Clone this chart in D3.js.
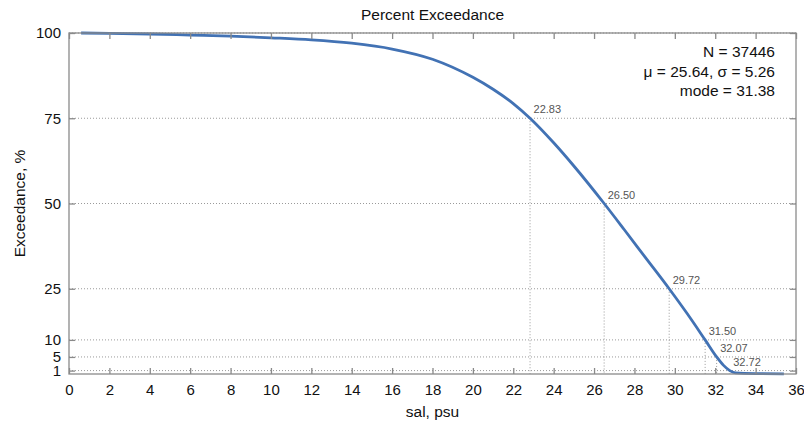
<!DOCTYPE html>
<html>
<head>
<meta charset="utf-8">
<script src="https://cdnjs.cloudflare.com/ajax/libs/d3/7.8.5/d3.min.js"></script>
<style>
  body { margin: 0; background: #fff; }
  svg { display: block; font-family: "Liberation Sans", Arial, sans-serif; }
</style>
</head>
<body>
<svg id="chart" width="804" height="425"></svg>
<script>
// Exceedance curve (salinity psu, percent exceeding)
var sal =        [0.6, 2, 4, 6, 8, 10, 12, 14, 16, 18, 20, 21, 22, 22.83, 24, 25, 26.5, 27.5, 28.5, 29.72, 30.6, 31.5, 32.07, 32.4, 32.72, 33, 34, 35.4];
var exceedance = [100, 99.9, 99.7, 99.4, 99.1, 98.6, 98.0, 97.0, 95.3, 92.3, 87, 83.5, 79.3, 75, 67.8, 61.0, 50, 42.3, 34.5, 25, 17.8, 10, 5, 2.6, 1, 0.3, 0.1, 0.05];

// Marked quantiles
var qLevels = [75, 50, 25, 10, 5, 1];
var qValues = [22.83, 26.50, 29.72, 31.50, 32.07, 32.72];

var xTicks = d3.range(0, 37, 2);
var yTicks = [1, 5, 10, 25, 50, 75, 100];

var statLines = ['N = 37446', '\u03bc = 25.64, \u03c3 = 5.26', 'mode = 31.38'];

(function() {
var svg = d3.select('#chart');
// note: "top" is reserved on window, so use plot* names
var plotL = 69, plotR = 796, plotT = 33, plotB = 374;

var x = d3.scaleLinear().domain([0, 36]).range([plotL, plotR]);
var y = d3.scaleLinear().domain([0, 100]).range([plotB, plotT]);

var axisColor = '#8a8a8a';
var gridColor = '#9a9a9a';

// horizontal grid at y ticks
svg.append('g')
  .selectAll('line')
  .data(yTicks)
  .enter().append('line')
    .attr('x1', plotL).attr('x2', plotR)
    .attr('y1', function(d) { return y(d); })
    .attr('y2', function(d) { return y(d); })
    .attr('stroke', gridColor)
    .attr('stroke-width', 1)
    .attr('stroke-dasharray', '1,2');

// vertical dotted drops at quantiles
svg.append('g')
  .selectAll('line')
  .data(qValues)
  .enter().append('line')
    .attr('x1', function(d) { return x(d); })
    .attr('x2', function(d) { return x(d); })
    .attr('y1', function(d, i) { return y(qLevels[i]); })
    .attr('y2', plotB)
    .attr('stroke', gridColor)
    .attr('stroke-width', 1)
    .attr('stroke-dasharray', '1,2');

// curve
var line = d3.line()
  .x(function(d) { return x(d[0]); })
  .y(function(d) { return y(d[1]); })
  .curve(d3.curveMonotoneX);

svg.append('path')
  .datum(d3.zip(sal, exceedance))
  .attr('fill', 'none')
  .attr('stroke', '#4272b4')
  .attr('stroke-width', 2.8)
  .attr('d', line);

// quantile labels
svg.append('g')
  .selectAll('text')
  .data(qValues)
  .enter().append('text')
    .attr('x', function(d) { return x(d) + 3.5; })
    .attr('y', function(d, i) { return y(qLevels[i]) - 5; })
    .attr('font-size', 11)
    .attr('fill', '#555')
    .text(function(d) { return d.toFixed(2); });

// axes box with inward ticks on all sides
var axes = svg.append('g');
axes.append('rect')
  .attr('x', plotL).attr('y', plotT)
  .attr('width', plotR - plotL).attr('height', plotB - plotT)
  .attr('fill', 'none')
  .attr('stroke', axisColor)
  .attr('stroke-width', 1.3);

var xb = axes.append('g')
  .attr('transform', 'translate(0,' + plotB + ')')
  .call(d3.axisBottom(x).tickValues(xTicks).tickSizeInner(-6).tickSizeOuter(0).tickPadding(10));
var xt = axes.append('g')
  .attr('transform', 'translate(0,' + plotT + ')')
  .call(d3.axisTop(x).tickValues(xTicks).tickSizeInner(-6).tickSizeOuter(0).tickFormat(''));
var yl = axes.append('g')
  .attr('transform', 'translate(' + plotL + ',0)')
  .call(d3.axisLeft(y).tickValues(yTicks).tickSizeInner(-6).tickSizeOuter(0).tickPadding(8));
var yr = axes.append('g')
  .attr('transform', 'translate(' + plotR + ',0)')
  .call(d3.axisRight(y).tickValues(yTicks).tickSizeInner(-6).tickSizeOuter(0).tickFormat(''));

[xb, xt, yl, yr].forEach(function(g) {
  g.select('.domain').remove();
  g.selectAll('.tick line').attr('stroke', axisColor).attr('stroke-width', 1.3);
  g.selectAll('.tick text')
    .attr('font-family', '"Liberation Sans", Arial, sans-serif')
    .attr('font-size', 15)
    .attr('fill', '#111');
});
xb.selectAll('.tick text').attr('dy', '0.71em');

// title and axis labels
svg.append('text')
  .attr('x', (plotL + plotR) / 2).attr('y', 20)
  .attr('text-anchor', 'middle')
  .attr('font-size', 15.5)
  .attr('fill', '#111')
  .text('Percent Exceedance');

svg.append('text')
  .attr('x', (plotL + plotR) / 2).attr('y', 417)
  .attr('text-anchor', 'middle')
  .attr('font-size', 15.5)
  .attr('fill', '#111')
  .text('sal, psu');

svg.append('text')
  .attr('transform', 'translate(25,' + (plotT + plotB) / 2 + ') rotate(-90)')
  .attr('text-anchor', 'middle')
  .attr('font-size', 15.5)
  .attr('fill', '#111')
  .text('Exceedance, %');

// stats box
svg.append('g')
  .selectAll('text')
  .data(statLines)
  .enter().append('text')
    .attr('x', 775)
    .attr('y', function(d, i) { return 57 + i * 19.5; })
    .attr('text-anchor', 'end')
    .attr('font-size', 15.5)
    .attr('fill', '#111')
    .text(function(d) { return d; });
})();
</script>
</body>
</html>
